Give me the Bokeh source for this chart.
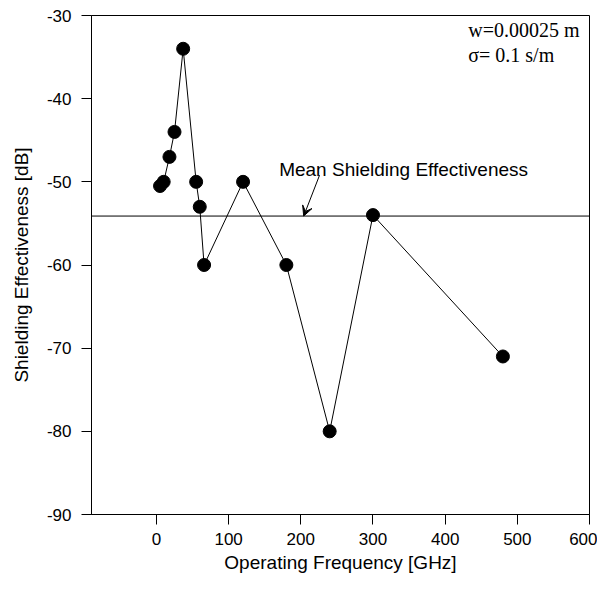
from bokeh.plotting import figure
from bokeh.models import Span, Arrow, VeeHead, Label, FixedTicker, PrintfTickFormatter
from bokeh.embed import file_html
from bokeh.resources import INLINE

freq_ghz = [5, 10, 18, 25, 37, 55, 60, 66, 120, 180, 240, 300, 480]
se_db = [-50.5, -50, -47, -44, -34, -50, -53, -60, -50, -60, -80, -54, -71]
x_ticks = [0, 100, 200, 300, 400, 500, 600]
y_ticks = [-90, -80, -70, -60, -50, -40, -30]
mean_se = sum(se_db) / len(se_db)

FONT = "Liberation Sans"

p = figure(width=597, height=576, output_backend="svg", toolbar_location=None,
           x_range=(-90, 600), y_range=(-90, -30),
           min_border_left=91, min_border_right=8, min_border_top=15, min_border_bottom=62)
p.grid.visible = False
p.background_fill_color = "white"
p.border_fill_color = "white"
p.outline_line_color = "black"
p.outline_line_width = 1

for ax in (p.xaxis[0], p.yaxis[0]):
    ax.axis_line_color = "black"
    ax.major_tick_line_color = "black"
    ax.minor_tick_line_color = None
    ax.major_tick_out = 10
    ax.major_tick_in = 0
    ax.major_label_text_font = FONT
    ax.major_label_text_font_size = "17px"
    ax.major_label_text_color = "black"
    ax.axis_label_text_font = FONT
    ax.axis_label_text_font_size = "19px"
    ax.axis_label_text_font_style = "normal"
    ax.axis_label_text_color = "black"
    ax.formatter = PrintfTickFormatter(format="%d")

p.xaxis.ticker = FixedTicker(ticks=x_ticks)
p.yaxis.ticker = FixedTicker(ticks=y_ticks)
p.xaxis.axis_label = "Operating Frequency [GHz]"
p.yaxis.axis_label = "Shielding Effectiveness [dB]"
p.xaxis.major_label_standoff = 8
p.yaxis.major_label_standoff = 10
p.xaxis.axis_label_standoff = 4
p.yaxis.axis_label_standoff = 12

p.add_layout(Span(location=mean_se, dimension="width", line_color="black", line_width=1))

p.line(freq_ghz, se_db, line_color="black", line_width=1)
p.scatter(freq_ghz, se_db, size=13, fill_color="black", line_color="black")

p.add_layout(Arrow(end=VeeHead(size=10, fill_color="black", line_color="black"),
                   x_start=226, y_start=-49.2, x_end=204, y_end=mean_se,
                   line_color="black", line_width=1))
p.add_layout(Label(x=170, y=-48.5, text="Mean Shielding Effectiveness",
                   text_font=FONT, text_font_size="19px", text_color="black",
                   text_baseline="alphabetic"))
p.add_layout(Label(x=432, y=-31.7, text="w=0.00025 m", text_font="Liberation Serif",
                   text_font_size="20px", text_color="black", text_baseline="alphabetic"))
p.add_layout(Label(x=432, y=-34.7, text="σ= 0.1 s/m", text_font="Liberation Serif",
                   text_font_size="20px", text_color="black", text_baseline="alphabetic"))

open("out.html", "w").write(file_html(p, INLINE))
